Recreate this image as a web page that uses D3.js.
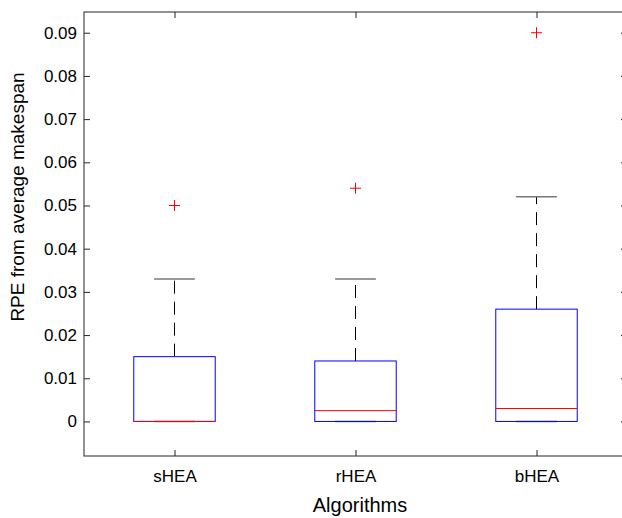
<!DOCTYPE html>
<html>
<head>
<meta charset="utf-8">
<script src="https://cdn.jsdelivr.net/npm/d3@7"></script>
<style>
  html, body { margin: 0; padding: 0; background: #fff; }
  svg { display: block; font-family: "Liberation Sans", Arial, Helvetica, sans-serif; }
</style>
</head>
<body>
<svg id="chart" width="622" height="518"></svg>
<script>
// ── Data ─────────────────────────────────────────────────────────────────────
const algorithms = ["sHEA", "rHEA", "bHEA"];
const q1Values     = [0, 0, 0];
const medianValues = [0, 0.0025, 0.003];
const q3Values     = [0.015, 0.014, 0.026];
const lowWhisker   = [0, 0, 0];
const highWhisker  = [0.033, 0.033, 0.052];
const outliers     = [[0.05], [0.054], [0.09]];
const yTicks = [0, 0.01, 0.02, 0.03, 0.04, 0.05, 0.06, 0.07, 0.08, 0.09];

// ── Layout ───────────────────────────────────────────────────────────────────
const svg = d3.select("#chart");
const plot = { left: 84, top: 12, right: 627, bottom: 456 };
const axisCol = "#262626";

const x = d3.scaleLinear().domain([0.5, 3.5]).range([plot.left, plot.right]);
const y = d3.scaleLinear().domain([-0.008, 0.0948]).range([plot.bottom, plot.top]);

const boxW = 0.45, capW = 0.225;

// Frame
svg.append("rect")
  .attr("x", plot.left).attr("y", plot.top)
  .attr("width", plot.right - plot.left).attr("height", plot.bottom - plot.top)
  .attr("fill", "none").attr("stroke", axisCol).attr("stroke-width", 1);

// Y axis (left, ticks inward) + mirrored ticks on the right
const yAxis = d3.axisLeft(y).tickValues(yTicks).tickSizeInner(-6).tickSizeOuter(0)
  .tickPadding(12).tickFormat(d => d === 0 ? "0" : d3.format(".2f")(d));
const gy = svg.append("g").attr("transform", `translate(${plot.left},0)`).call(yAxis);
gy.select(".domain").remove();
gy.selectAll("line").attr("stroke", axisCol);
gy.selectAll("text").attr("font-size", 17).attr("fill", "#000").attr("x", -7);

const gyr = svg.append("g").attr("transform", `translate(${plot.right},0)`)
  .call(d3.axisRight(y).tickValues(yTicks).tickSizeInner(-6).tickSizeOuter(0).tickFormat(""));
gyr.select(".domain").remove();
gyr.selectAll("line").attr("stroke", axisCol);

// X axis (bottom, ticks inward) + mirrored ticks on top
const xAxis = d3.axisBottom(x).tickValues([1, 2, 3]).tickSizeInner(-6).tickSizeOuter(0)
  .tickFormat(i => algorithms[i - 1]);
const gx = svg.append("g").attr("transform", `translate(0,${plot.bottom})`).call(xAxis);
gx.select(".domain").remove();
gx.selectAll("line").attr("stroke", axisCol);
gx.selectAll("text").attr("font-size", 17).attr("fill", "#000").attr("y", 14);

const gxt = svg.append("g").attr("transform", `translate(0,${plot.top})`)
  .call(d3.axisTop(x).tickValues([1, 2, 3]).tickSizeInner(-6).tickSizeOuter(0).tickFormat(""));
gxt.select(".domain").remove();
gxt.selectAll("line").attr("stroke", axisCol);

// ── Boxes ────────────────────────────────────────────────────────────────────
const boxes = algorithms.map((name, i) => ({
  pos: i + 1, q1: q1Values[i], med: medianValues[i], q3: q3Values[i],
  lo: lowWhisker[i], hi: highWhisker[i], out: outliers[i]
}));

const g = svg.append("g");
boxes.forEach(b => {
  // whiskers
  [[b.q3, b.hi], [b.q1, b.lo]].forEach(([from, to]) => {
    if (from === to) return;
    g.append("line")
      .attr("x1", x(b.pos)).attr("x2", x(b.pos))
      .attr("y1", y(from)).attr("y2", y(to))
      .attr("stroke", "#000").attr("stroke-width", 1)
      .attr("stroke-dasharray", "13,8");
  });
  // caps
  [b.hi, b.lo].forEach(v => {
    g.append("line")
      .attr("x1", x(b.pos - capW / 2)).attr("x2", x(b.pos + capW / 2))
      .attr("y1", y(v)).attr("y2", y(v))
      .attr("stroke", "#777").attr("stroke-width", 1.5);
  });
  // box
  g.append("rect")
    .attr("x", x(b.pos - boxW / 2)).attr("y", y(b.q3))
    .attr("width", x(b.pos + boxW / 2) - x(b.pos - boxW / 2))
    .attr("height", y(b.q1) - y(b.q3))
    .attr("fill", "none").attr("stroke", "#0000ff").attr("stroke-width", 1);
  // median
  g.append("line")
    .attr("x1", x(b.pos - boxW / 2)).attr("x2", x(b.pos + boxW / 2))
    .attr("y1", y(b.med)).attr("y2", y(b.med))
    .attr("stroke", "#ff0000").attr("stroke-width", 1);
  // outliers
  b.out.forEach(v => {
    const cx = x(b.pos), cy = y(v), s = 5.5;
    g.append("path")
      .attr("d", `M${cx - s},${cy}H${cx + s}M${cx},${cy - s}V${cy + s}`)
      .attr("stroke", "#ff0000").attr("stroke-width", 1).attr("fill", "none");
  });
});

// ── Labels ───────────────────────────────────────────────────────────────────
svg.append("text")
  .attr("x", 360).attr("y", 512)
  .attr("text-anchor", "middle").attr("font-size", 20).attr("fill", "#000")
  .text("Algorithms");

svg.append("text")
  .attr("transform", "translate(24,197) rotate(-90)")
  .attr("text-anchor", "middle").attr("font-size", 19).attr("fill", "#000")
  .text("RPE from average makespan");
</script>
</body>
</html>
